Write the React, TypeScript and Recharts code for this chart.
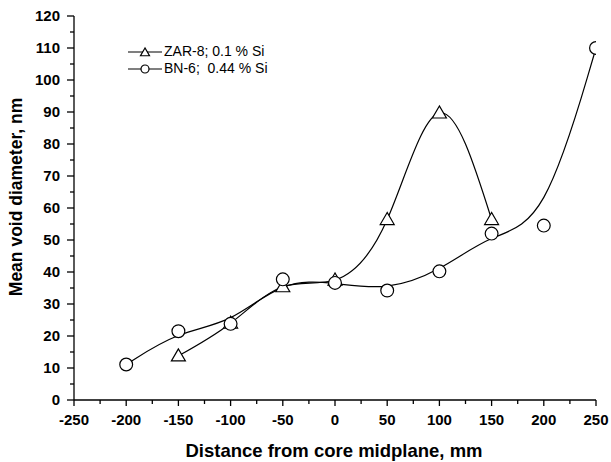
import React from 'react';
import { LineChart, Line, XAxis, YAxis, Legend, Label } from 'recharts';

// distance from core midplane (mm) and mean void diameter (nm)
const zarDistance = [-150, -100, -50, 0, 50, 100, 150];
const zarDiameter = [13.8, 24, 35.4, 37.5, 56.4, 89.7, 56.4];

const bnDistance = [-200, -150, -100, -50, 0, 50, 100, 150, 200, 250];
const bnDiameter = [11.1, 21.5, 23.8, 37.7, 36.6, 34.2, 40.2, 52, 54.5, 110];

const xTicks = [-250, -225, -200, -175, -150, -125, -100, -75, -50, -25, 0, 25, 50, 75, 100, 125, 150, 175, 200, 225, 250];
const yTicks = [0, 5, 10, 15, 20, 25, 30, 35, 40, 45, 50, 55, 60, 65, 70, 75, 80, 85, 90, 95, 100, 105, 110, 115, 120];

const zarData = zarDistance.map((x, i) => ({ x, d: zarDiameter[i] }));
const bnData = bnDistance.map((x, i) => ({ x, d: bnDiameter[i] }));

const FONT = '"Liberation Sans", Arial, Helvetica, sans-serif';
const AXIS = { stroke: '#000', strokeWidth: 1.3 };

const W = 611;
const H = 462;
const MARGIN = { top: 16, right: 15, bottom: 0, left: 0 };
const Y_AXIS_W = 74;
const X_AXIS_H = 62;
const PLOT_RIGHT = W - MARGIN.right;

const BottomTick = (props: any) => {
  const { x, y, payload } = props;
  const major = payload.value % 50 === 0;
  return (
    <g>
      <line x1={x} y1={y} x2={x} y2={y + (major ? 6 : 4)} stroke="#000" strokeWidth={1.3} />
      {major && (
        <text x={x} y={y + 25} textAnchor="middle" fontFamily={FONT} fontWeight="bold" fontSize={15} fill="#000">
          {payload.value}
        </text>
      )}
    </g>
  );
};

const LeftTick = (props: any) => {
  const { x, y, payload } = props;
  const major = payload.value % 10 === 0;
  return (
    <g>
      <line x1={x - (major ? 7 : 4)} y1={y} x2={x} y2={y} stroke="#000" strokeWidth={1.3} />
      {major && (
        <text x={x - 14} y={y + 5} textAnchor="end" fontFamily={FONT} fontWeight="bold" fontSize={15} fill="#000">
          {payload.value}
        </text>
      )}
    </g>
  );
};

const TopTick = (props: any) => {
  const { x, y, payload } = props;
  const major = payload.value % 50 === 0;
  return <line x1={x} y1={y} x2={x} y2={y + (major ? 6 : 4)} stroke="#000" strokeWidth={1.3} />;
};

const RightTick = (props: any) => {
  const { x, y, payload } = props;
  const major = payload.value % 10 === 0;
  return <line x1={x - (major ? 7 : 4)} y1={y} x2={x} y2={y} stroke="#000" strokeWidth={1.3} />;
};

const Triangle = ({ cx, cy, s = 7 }: { cx: number; cy: number; s?: number }) => (
  <polygon
    points={`${cx},${cy - s} ${cx - s},${cy + s * 0.72} ${cx + s},${cy + s * 0.72}`}
    fill="#fff"
    stroke="#000"
    strokeWidth={1.2}
  />
);

// open circle; the part beyond the right frame is cut off, as in the original plot
const Circle = ({ cx, cy, r = 6.4, right = Infinity }: { cx: number; cy: number; r?: number; right?: number }) => {
  const dx = right - cx;
  if (dx >= r) return <circle cx={cx} cy={cy} r={r} fill="#fff" stroke="#000" strokeWidth={1.2} />;
  if (dx <= -r) return null;
  const h = Math.sqrt(r * r - dx * dx);
  const large = dx >= 0 ? 1 : 0;
  return (
    <path
      d={`M${right},${cy - h} A${r},${r} 0 ${large} 0 ${right},${cy + h}`}
      fill="#fff"
      stroke="#000"
      strokeWidth={1.2}
    />
  );
};

const LegendBox = () => (
  <div style={{ fontFamily: FONT, fontSize: 14, color: '#000', lineHeight: '17px' }}>
    {[
      { name: 'ZAR-8; 0.1 % Si', tri: true },
      { name: 'BN-6;  0.44 % Si', tri: false },
    ].map((row) => (
      <div key={row.name} style={{ display: 'flex', alignItems: 'center', height: 17 }}>
        <svg width={36} height={14}>
          <line x1={1} y1={7} x2={35} y2={7} stroke="#000" strokeWidth={1.2} />
          {row.tri ? <Triangle cx={18} cy={7.5} s={4.5} /> : <Circle cx={18} cy={7} r={4} />}
        </svg>
        <span style={{ whiteSpace: 'pre', marginLeft: 1 }}>{row.name}</span>
      </div>
    ))}
  </div>
);

const XTitle = (props: any) => {
  const { viewBox } = props;
  return (
    <text x={viewBox.x + viewBox.width / 2 - 1} y={457} textAnchor="middle" fontFamily={FONT} fontWeight="bold" fontSize={18.5} fill="#000">
      Distance from core midplane, mm
    </text>
  );
};

const YTitle = (props: any) => {
  const { viewBox } = props;
  const cy = viewBox.y + viewBox.height / 2 - 11;
  return (
    <text x={22} y={cy} transform={`rotate(-90, 22, ${cy})`} textAnchor="middle" fontFamily={FONT} fontWeight="bold" fontSize={17.5} fill="#000">
      Mean void diameter, nm
    </text>
  );
};

export default function App() {
  return (
    <div style={{ position: 'absolute', left: 0, top: 0, background: '#fff' }}>
      <LineChart width={W} height={H} margin={MARGIN}>
        <XAxis
          xAxisId="b"
          dataKey="x"
          type="number"
          domain={[-250, 250]}
          ticks={xTicks}
          interval={0}
          allowDataOverflow
          height={X_AXIS_H}
          axisLine={AXIS}
          tickLine={false}
          tickSize={0}
          tickMargin={0}
          tick={<BottomTick />}
        >
          <Label content={<XTitle />} />
        </XAxis>
        <XAxis
          xAxisId="t"
          orientation="top"
          dataKey="x"
          type="number"
          domain={[-250, 250]}
          ticks={xTicks}
          interval={0}
          allowDataOverflow
          height={0}
          axisLine={AXIS}
          tickLine={false}
          tickSize={0}
          tickMargin={0}
          tick={<TopTick />}
        />
        <YAxis
          yAxisId="l"
          type="number"
          domain={[0, 120]}
          ticks={yTicks}
          interval={0}
          allowDataOverflow
          width={Y_AXIS_W}
          axisLine={AXIS}
          tickLine={false}
          tickSize={0}
          tickMargin={0}
          tick={<LeftTick />}
        >
          <Label content={<YTitle />} />
        </YAxis>
        <YAxis
          yAxisId="r"
          orientation="right"
          type="number"
          domain={[0, 120]}
          ticks={yTicks}
          interval={0}
          allowDataOverflow
          width={0}
          axisLine={AXIS}
          tickLine={false}
          tickSize={0}
          tickMargin={0}
          tick={<RightTick />}
        />
        <Legend
          layout="vertical"
          align="center"
          verticalAlign="middle"
          wrapperStyle={{ left: 127, top: 43, width: 'auto' }}
          content={<LegendBox />}
        />
        <Line
          data={zarData}
          dataKey="d"
          name="ZAR-8; 0.1 % Si"
          xAxisId="b"
          yAxisId="l"
          type="natural"
          stroke="#000"
          strokeWidth={1.2}
          dot={(p: any) => <Triangle key={`t${p.index}`} cx={p.cx} cy={p.cy} />}
          isAnimationActive={false}
        />
        <Line
          data={bnData}
          dataKey="d"
          name="BN-6; 0.44 % Si"
          xAxisId="b"
          yAxisId="l"
          type="basis"
          stroke="#000"
          strokeWidth={1.2}
          dot={(p: any) => <Circle key={`c${p.index}`} cx={p.cx} cy={p.cy} right={PLOT_RIGHT} />}
          isAnimationActive={false}
        />
      </LineChart>
    </div>
  );
}
